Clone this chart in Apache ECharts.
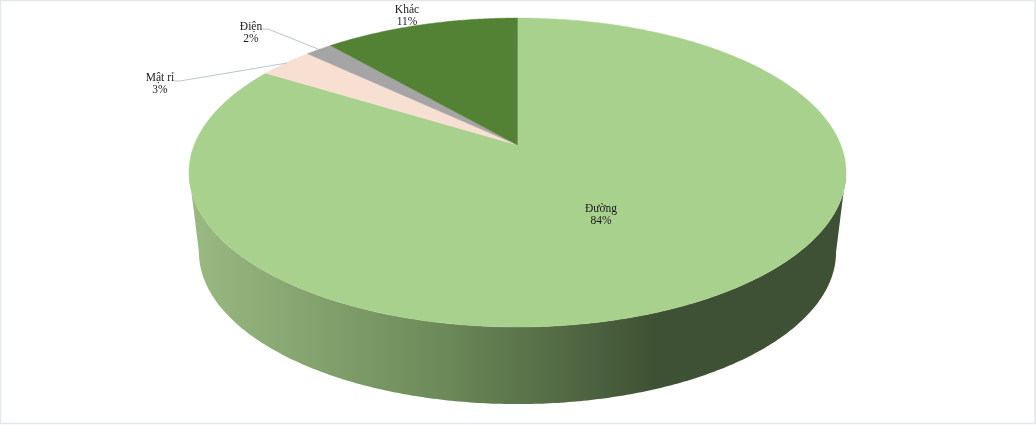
<!DOCTYPE html>
<html>
<head>
<meta charset="utf-8">
<style>html,body{margin:0;padding:0;background:#fff}#c{width:1036px;height:425px}</style>
<script src="https://cdn.jsdelivr.net/npm/echarts@6/dist/echarts.min.js"></script>
</head>
<body>
<div id="c"></div>
<script>
var categories = ['Đường', 'Mật rỉ', 'Điện', 'Khác'];
var values = [83.8, 3.2, 1.6, 11.4];
var colors = ['#a9d18e', '#f7dfd2', '#a5a5a5', '#548235'];

// perspective disc: apex, half axes and tilt of the top face, plus the lower rim
var view = { cx: 517.5, cy: 145, a: 323.3, b: 149.6, k: 0.178, lowSx: 0.9696, lowSy: 0.984, lowCy: 225 };
var labelLayout = [
  { x: 601, y: 215 },
  { x: 160, y: 84, line: [[174, 81], [180, 81], [287, 63]] },
  { x: 251, y: 33, line: [[262, 29], [268, 29], [318, 49]] },
  { x: 407, y: 16 }
];
var FONT = '"Liberation Serif","Times New Roman",serif';

var total = values.reduce(function (s, v) { return s + v; }, 0);
var spans = [], acc = 0;
values.forEach(function (v) {
  var start = acc / total * 2 * Math.PI;
  acc += v;
  spans.push([start, acc / total * 2 * Math.PI]);
});

function rim(theta, low) {
  var u = Math.sin(theta), v = -Math.cos(theta), d = 1 - view.k * v;
  var sx = low ? view.lowSx : 1, sy = low ? view.lowSy : 1, cy = low ? view.lowCy : view.cy;
  return [view.cx + sx * view.a * u / d, cy + sy * view.b * v / d];
}
function arc(t0, t1, low) {
  var n = Math.max(2, Math.ceil(Math.abs(t1 - t0) / 0.01)), pts = [];
  for (var i = 0; i <= n; i++) pts.push(rim(t0 + (t1 - t0) * i / n, low));
  return pts;
}

var sideGradient = new echarts.graphic.LinearGradient(0, 0, 1, 0, [
  { offset: 0, color: '#9aba82' },
  { offset: 0.38, color: '#6d8b5a' },
  { offset: 0.71, color: '#3f5134' },
  { offset: 1, color: '#3f5134' }
]);

function renderSide(params) {
  var sp = spans[params.dataIndex];
  var f0 = Math.acos(-view.k), f1 = 2 * Math.PI - f0;
  var t0 = Math.max(sp[0], f0), t1 = Math.min(sp[1], f1);
  if (t1 <= t0) return null;
  return {
    type: 'polygon',
    shape: { points: arc(t0, t1, false).concat(arc(t1, t0, true)) },
    style: { fill: params.dataIndex === 0 ? sideGradient : colors[params.dataIndex] }
  };
}
function renderTop(params) {
  var i = params.dataIndex, sp = spans[i];
  return {
    type: 'polygon',
    shape: { points: [[view.cx, view.cy]].concat(arc(sp[0], sp[1], false)) },
    style: { fill: colors[i], stroke: colors[i], lineWidth: 0.4 }
  };
}
function renderLabel(params) {
  var i = params.dataIndex, L = labelLayout[i], kids = [];
  if (L.line) kids.push({
    type: 'polyline',
    shape: { points: L.line },
    style: { fill: null, stroke: '#b9c6d0', lineWidth: 1 }
  });
  kids.push({
    type: 'text',
    style: {
      x: L.x, y: L.y,
      text: categories[i] + '\n' + Math.round(values[i] / total * 100) + '%',
      font: '11.5px ' + FONT, lineHeight: 12,
      fill: '#1a1a1a', align: 'center', verticalAlign: 'middle'
    }
  });
  return { type: 'group', children: kids };
}

var rows = values.map(function (v, i) { return { name: categories[i], value: [i, v] }; });
var chart = echarts.init(document.getElementById('c'), null, { renderer: 'canvas' });
chart.setOption({
  animation: false,
  backgroundColor: '#ffffff',
  tooltip: { show: false },
  graphic: [{
    type: 'rect',
    shape: { x: 0.5, y: 0.5, width: 1034.5, height: 423 },
    style: { fill: null, stroke: '#e4e8e9', lineWidth: 1.5 },
    silent: true
  }],
  series: [
    { type: 'custom', coordinateSystem: 'none', z: 1, renderItem: renderSide, data: rows, silent: true },
    { type: 'custom', coordinateSystem: 'none', z: 2, renderItem: renderTop, data: rows, silent: true },
    { type: 'custom', coordinateSystem: 'none', z: 3, renderItem: renderLabel, data: rows, silent: true }
  ]
});
</script>
</body>
</html>
